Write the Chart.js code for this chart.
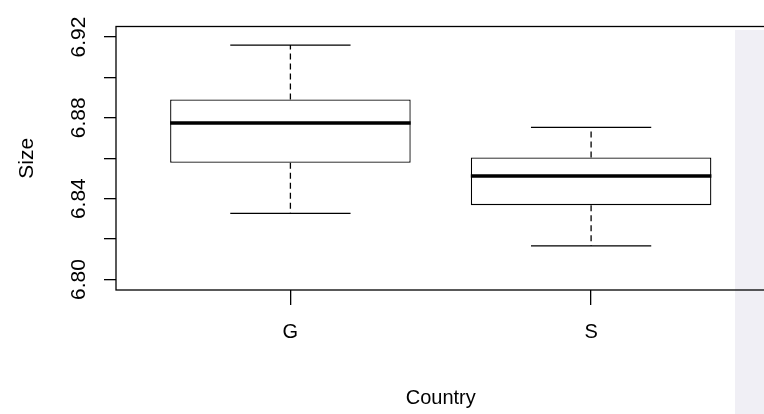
<!DOCTYPE html>
<html>
<head>
<meta charset="utf-8">
<script src="https://cdn.jsdelivr.net/npm/chart.js@4.4.1/dist/chart.umd.min.js"></script>
<style>
  html, body { margin: 0; padding: 0; background: #fff; overflow: hidden; }
  #wrap { position: relative; width: 764px; height: 414px; overflow: hidden; }
  #boxChart { position: absolute; left: 0; top: 0; }
</style>
</head>
<body>
<div id="wrap">
  <canvas id="boxChart" width="780" height="414"></canvas>
</div>
<script>
// box stats per country
const countries = ["G", "S"];
const whiskerLow = [6.8327, 6.8166];
const q1 = [6.8578, 6.8368];
const median = [6.8775, 6.8512];
const q3 = [6.8891, 6.8604];
const whiskerHigh = [6.9160, 6.8753];

const yTicks = [6.80, 6.82, 6.84, 6.86, 6.88, 6.90, 6.92];
const yTickLabels = ["6.80", "", "6.84", "", "6.88", "", "6.92"];

const BOX_W = 0.8;
const CAP_W = 0.4;

// build line segments (null breaks the line between groups)
function segments(fn) {
  const out = [];
  countries.forEach((c, i) => {
    out.push(...fn(i + 1, i));
    out.push({ x: i + 1, y: null });
  });
  return out;
}

const whiskerLines = segments((x, i) => [
  { x: x, y: q3[i] }, { x: x, y: whiskerHigh[i] }, { x: x, y: null },
  { x: x, y: q1[i] }, { x: x, y: whiskerLow[i] }
]);
const capLines = segments((x, i) => [
  { x: x - CAP_W / 2, y: whiskerHigh[i] }, { x: x + CAP_W / 2, y: whiskerHigh[i] }, { x: x, y: null },
  { x: x - CAP_W / 2, y: whiskerLow[i] }, { x: x + CAP_W / 2, y: whiskerLow[i] }
]);
const medianLines = segments((x, i) => [
  { x: x - BOX_W / 2, y: median[i] }, { x: x + BOX_W / 2, y: median[i] }
]);

const lineStyle = {
  type: "line",
  borderColor: "#000",
  pointRadius: 0,
  tension: 0,
  fill: false,
  spanGaps: false
};

const FONT = "'Liberation Sans', Arial, sans-serif";

const rPlot = {
  id: "rPlot",
  beforeDraw(chart) {
    const ctx = chart.ctx;
    ctx.save();
    ctx.fillStyle = "#f0eff5";
    ctx.fillRect(735, 30, 45, 384);
    ctx.restore();
  },
  afterDraw(chart) {
    const ctx = chart.ctx;
    const a = chart.chartArea;
    const y = chart.scales.y;
    ctx.save();
    ctx.strokeStyle = "#000";
    ctx.lineWidth = 1.3;
    ctx.strokeRect(a.left, a.top, a.right - a.left, a.bottom - a.top);

    ctx.fillStyle = "#000";
    ctx.font = "21px " + FONT;
    ctx.textAlign = "center";
    ctx.textBaseline = "middle";
    yTicks.forEach((v, i) => {
      if (!yTickLabels[i]) return;
      ctx.save();
      ctx.translate(79, y.getPixelForValue(v));
      ctx.rotate(-Math.PI / 2);
      ctx.fillText(yTickLabels[i], 0, 0);
      ctx.restore();
    });
    ctx.restore();
  }
};

new Chart(document.getElementById("boxChart"), {
  data: {
    datasets: [
      Object.assign({}, lineStyle, { data: medianLines, borderWidth: 3.5 }),
      Object.assign({}, lineStyle, { data: capLines, borderWidth: 1.3 }),
      Object.assign({}, lineStyle, { data: whiskerLines, borderWidth: 1.3, borderDash: [6, 4] }),
      {
        type: "bar",
        data: countries.map((c, i) => ({ x: i + 1, y: [q1[i], q3[i]] })),
        backgroundColor: "#fff",
        borderColor: "#000",
        borderWidth: 1.3,
        borderSkipped: false,
        barPercentage: BOX_W,
        categoryPercentage: 1
      }
    ]
  },
  options: {
    responsive: false,
    animation: false,
    layout: { padding: { left: 0, top: 26.5, right: 14.5, bottom: 0 } },
    plugins: { legend: { display: false }, tooltip: { enabled: false } },
    scales: {
      x: {
        type: "linear",
        min: 0.42,
        max: 2.58,
        offset: false,
        afterBuildTicks: s => { s.ticks = countries.map((c, i) => ({ value: i + 1 })); },
        afterFit: s => { s.height = 414 - 290; },
        ticks: {
          callback: (v) => countries[Math.round(v) - 1],
          color: "#000",
          font: { family: FONT, size: 20 },
          padding: 15
        },
        grid: { offset: false, drawOnChartArea: false, drawTicks: true, tickLength: 15, color: "#000", lineWidth: 1.3 },
        border: { display: false },
        title: { display: true, text: "Country", color: "#000", font: { family: FONT, size: 20 }, padding: { top: 0, bottom: 4 } }
      },
      y: {
        type: "linear",
        min: 6.7948,
        max: 6.9252,
        afterBuildTicks: s => { s.ticks = yTicks.map(v => ({ value: v })); },
        afterFit: s => { s.width = 116; },
        ticks: { display: false },
        grid: { drawOnChartArea: false, drawTicks: true, tickLength: 12, color: "#000", lineWidth: 1.3 },
        border: { display: false },
        title: { display: true, text: "Size", color: "#000", font: { family: FONT, size: 21 }, padding: { top: 15, bottom: 0 } }
      }
    }
  },
  plugins: [rPlot]
});
</script>
</body>
</html>
